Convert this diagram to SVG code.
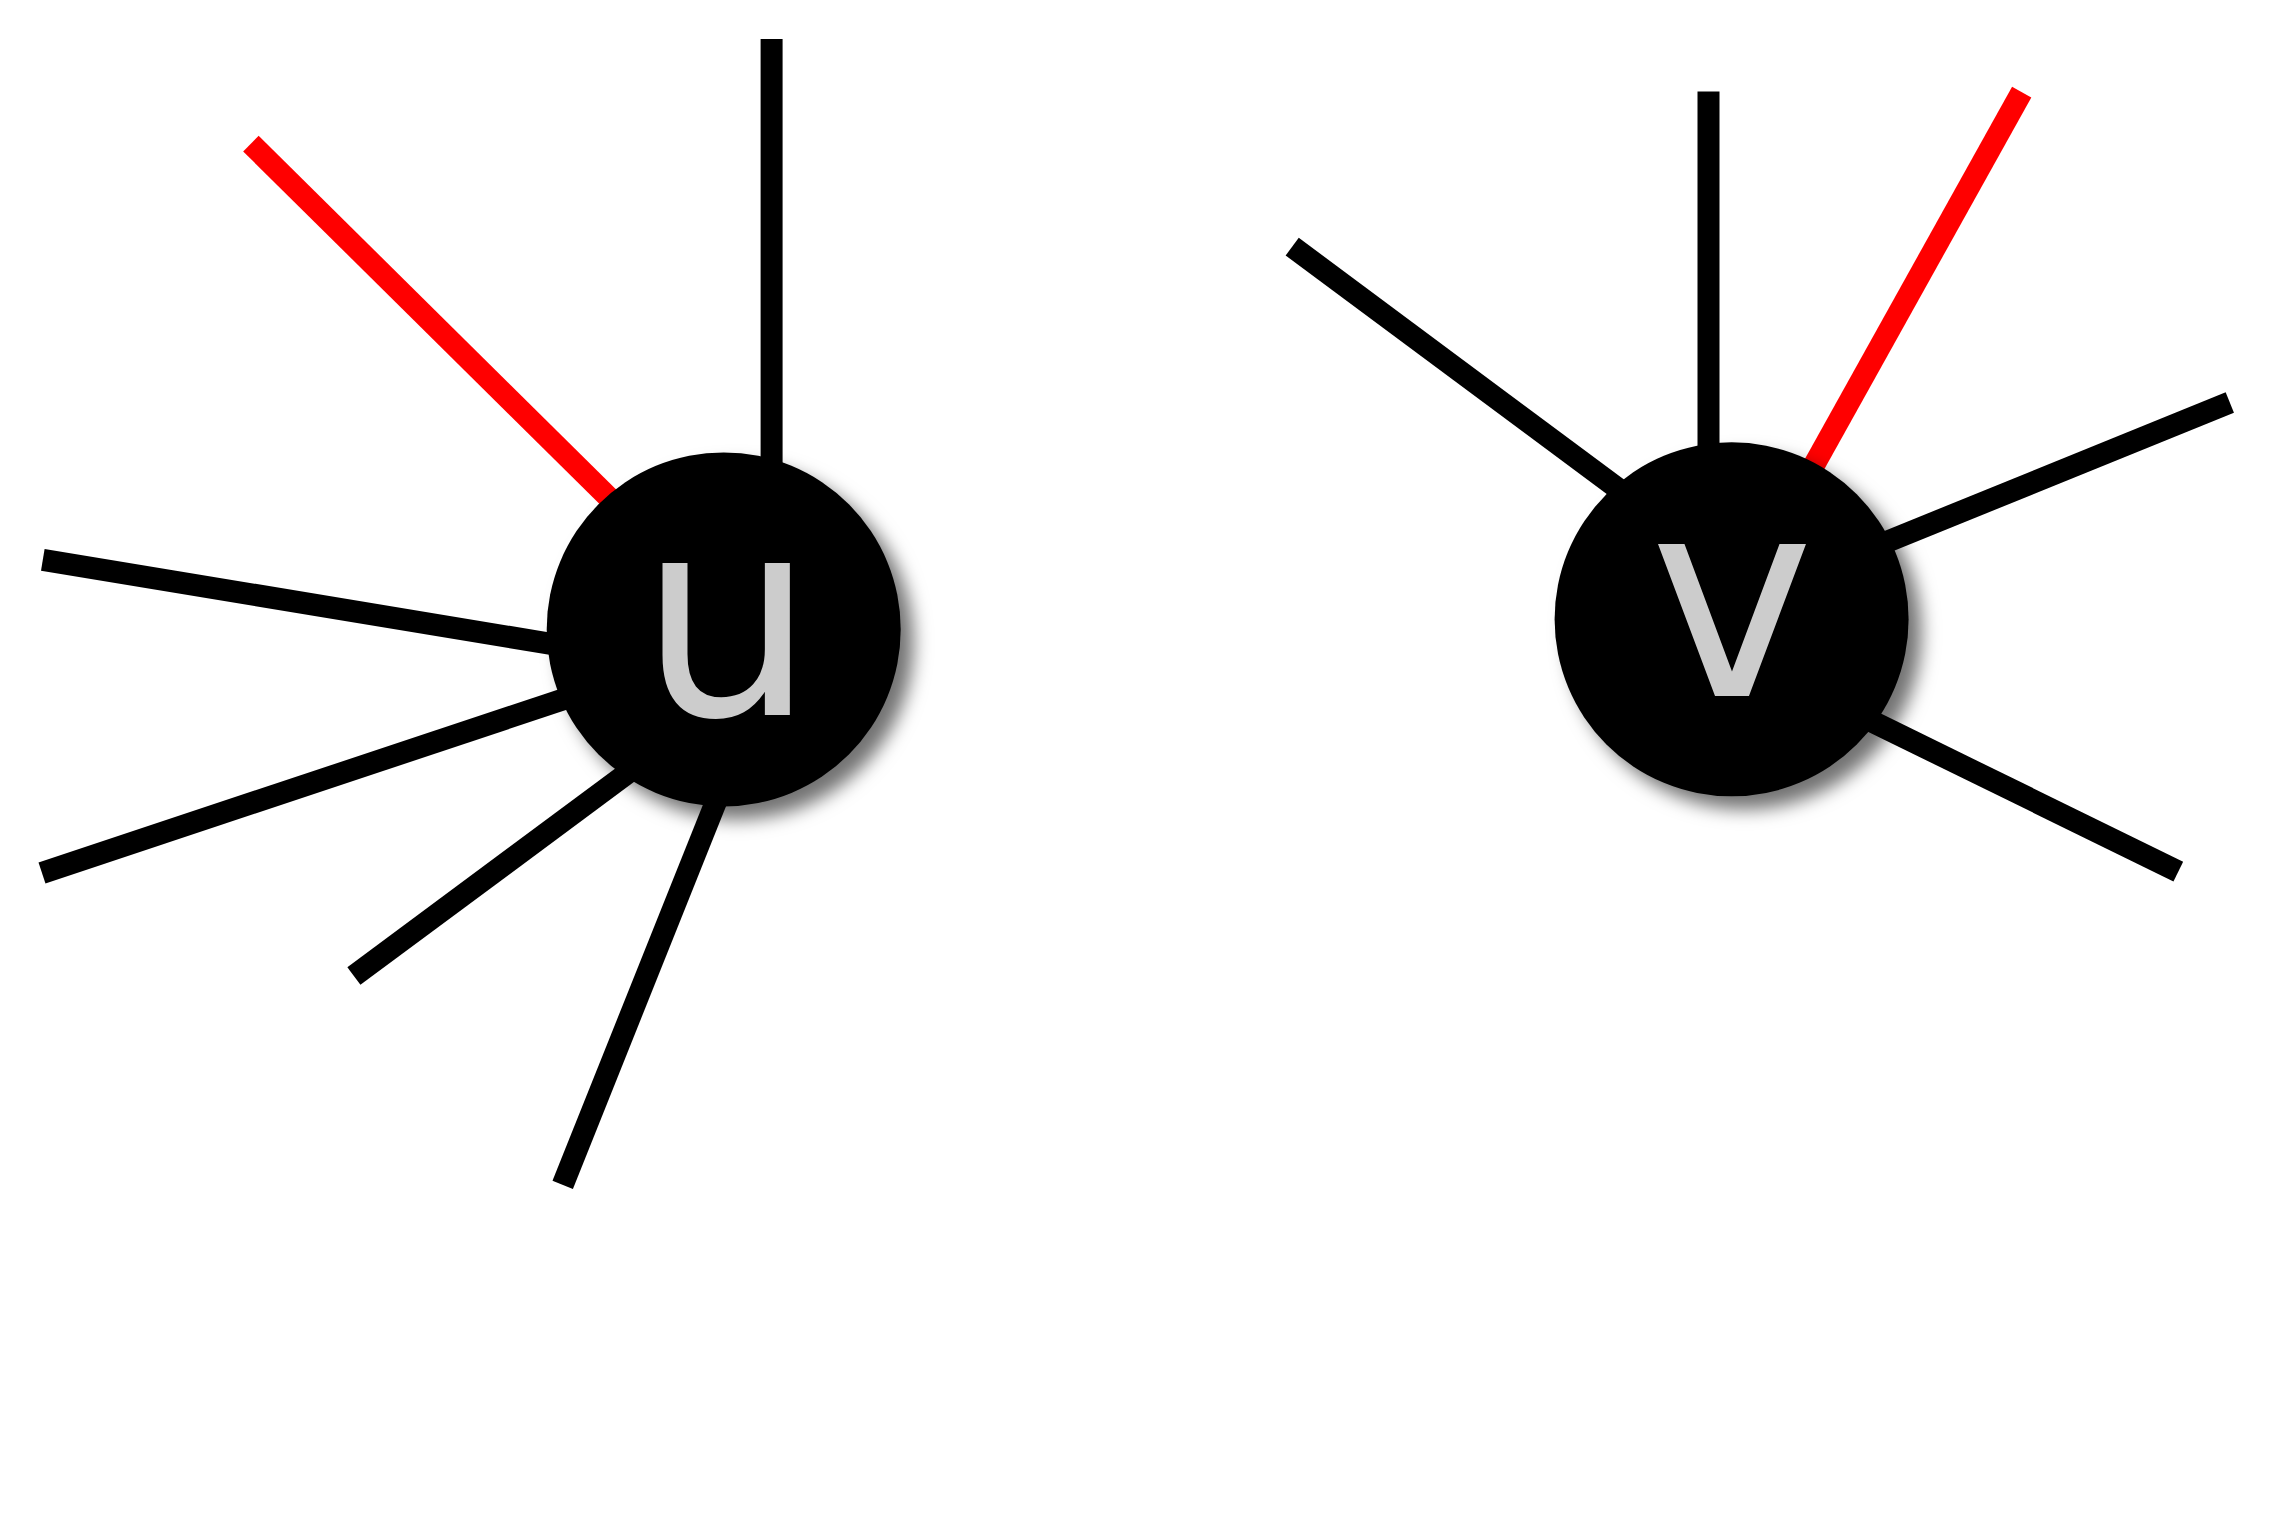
<svg xmlns="http://www.w3.org/2000/svg" width="2274" height="1537" viewBox="0 0 2274 1537">
<style>
.e{stroke:#000;stroke-width:22;fill:none}
.r{stroke:#ff0000;stroke-width:22;fill:none}
.n{fill:#000;filter:url(#sh)}
.t{fill:#cccccc;font-family:"DejaVu Sans",sans-serif;font-size:278px;text-anchor:middle}
</style>
<defs>
<filter id="sh" x="-30%" y="-30%" width="160%" height="160%">
<feGaussianBlur in="SourceAlpha" stdDeviation="9"/>
<feOffset dx="13" dy="13" result="b"/>
<feFlood flood-color="#000" flood-opacity="0.55"/>
<feComposite in2="b" operator="in"/>
<feMerge><feMergeNode/><feMergeNode in="SourceGraphic"/></feMerge>
</filter>
</defs>
<rect width="2274" height="1537" fill="#fff"/>
<g id="connectors">
<line class="e" x1="771.6" y1="39" x2="771.6" y2="522"/>
<line class="r" x1="250.9" y1="143.6" x2="652.6" y2="541"/>
<line class="e" x1="42.8" y1="559.8" x2="609.1" y2="653.5"/>
<line class="e" x1="42" y1="873" x2="609.1" y2="684.1"/>
<line class="e" x1="353.9" y1="976" x2="652.6" y2="754.5"/>
<line class="e" x1="562.7" y1="1184.9" x2="746.6" y2="725.2"/>
<line class="e" x1="1708.5" y1="91.4" x2="1708.5" y2="522"/>
<line class="r" x1="2021.7" y1="92.1" x2="1774.2" y2="536.6"/>
<line class="e" x1="1292.2" y1="246.6" x2="1667.8" y2="525.7"/>
<line class="e" x1="2229.8" y1="402.5" x2="1812.9" y2="571.9"/>
<line class="e" x1="2178.3" y1="871.6" x2="1812.9" y2="692.5"/>
</g>
<g id="node-u">
<circle class="n" cx="723.7" cy="629.4" r="177"/>
<text class="t" x="727" y="715">u</text>
</g>
<g id="node-v">
<circle class="n" cx="1731.6" cy="619.3" r="177"/>
<text class="t" x="1732" y="696">v</text>
</g>
</svg>
